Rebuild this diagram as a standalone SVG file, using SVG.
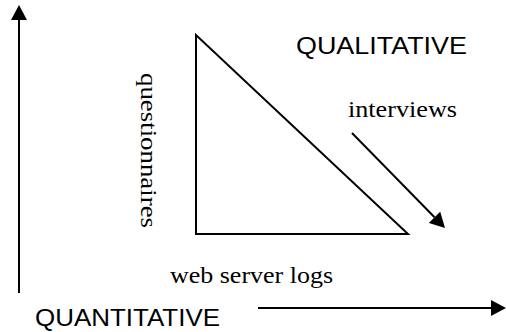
<svg xmlns="http://www.w3.org/2000/svg" width="506" height="332" viewBox="0 0 506 332">
<style>
.ln{stroke:#000;stroke-width:2;fill:none}
.sans{font-family:"Liberation Sans",Arial,sans-serif;font-size:24px;fill:#000}
.serif{font-family:"Liberation Serif","Times New Roman",serif;font-size:24px;fill:#000}
</style>
<defs>
<marker id="ah" viewBox="0 0 15 16" refX="0" refY="8" markerWidth="15" markerHeight="16" markerUnits="userSpaceOnUse" orient="auto">
<path d="M0,0 L15,8 L0,16 z" fill="#000"/>
</marker>
</defs>
<rect width="506" height="332" fill="#fff"/>
<g id="connectors">
<line class="ln" x1="19" y1="293" x2="19" y2="20" marker-end="url(#ah)"/>
<line class="ln" x1="258" y1="308" x2="491" y2="308" marker-end="url(#ah)"/>
<line class="ln" x1="352" y1="133" x2="434.5" y2="217.3" marker-end="url(#ah)"/>
</g>
<g id="triangle">
<polygon class="ln" points="196,35 196,234 408,234"/>
</g>
<g id="qualitative"><text class="sans" x="296" y="54" textLength="171" lengthAdjust="spacingAndGlyphs">QUALITATIVE</text></g>
<g id="quantitative"><text class="sans" x="35" y="326" textLength="185" lengthAdjust="spacingAndGlyphs">QUANTITATIVE</text></g>
<g id="interviews"><text class="serif" x="348" y="117" textLength="109" lengthAdjust="spacingAndGlyphs">interviews</text></g>
<g id="weblogs"><text class="serif" x="170" y="283" textLength="163" lengthAdjust="spacingAndGlyphs">web server logs</text></g>
<g id="questionnaires"><text class="serif" transform="translate(141,73) rotate(90)" textLength="155" lengthAdjust="spacingAndGlyphs">questionnaires</text></g>
</svg>
